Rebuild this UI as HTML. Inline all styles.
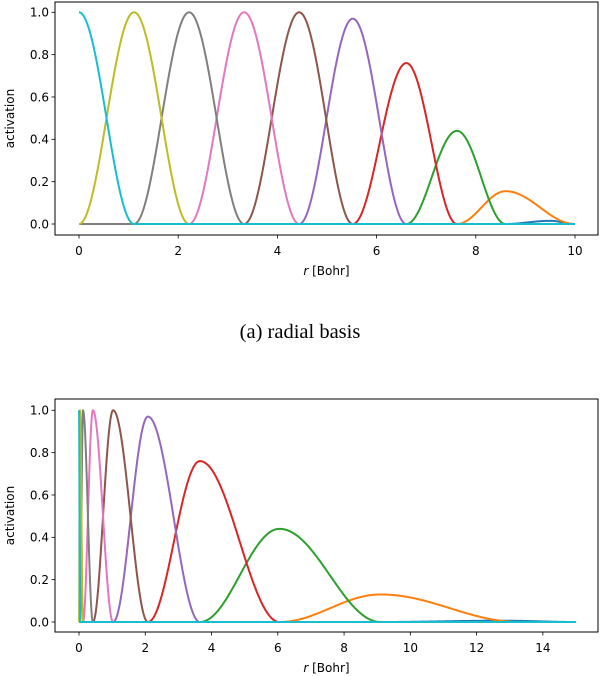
<!DOCTYPE html>
<html><head><meta charset="utf-8"><style>
html,body{margin:0;padding:0;background:#fff;}
svg{display:block;font-family:"DejaVu Sans","Liberation Sans",sans-serif;}
</style></head><body>
<svg id="fig" width="602" height="676" viewBox="0 0 602 676">
<text x="300" y="338" text-anchor="middle" font-family="Liberation Serif, serif" font-size="20.5" fill="#000">(a) radial basis</text>
</svg>
<script>
// Chart A (radial basis, linear spacing)
const topCenters = [9.5, 8.6, 7.62, 6.6, 5.52, 4.44, 3.33, 2.22, 1.11, 0];
const topAmps = [0.015, 0.155, 0.44, 0.76, 0.97, 1.0, 1.0, 1.0, 1.0, 1.0];
const topXTicks = [0, 2, 4, 6, 8, 10];
// Chart B (transformed spacing)
const botCenters = [12.8, 9.1, 6.05, 3.65, 2.08, 1.03, 0.42, 0.12, 0.03, 0];
const botAmps = [0.006, 0.13, 0.44, 0.76, 0.97, 1.0, 1.0, 1.0, 1.0, 1.0];
const botXTicks = [0, 2, 4, 6, 8, 10, 12, 14];
const yTicks = [0.0, 0.2, 0.4, 0.6, 0.8, 1.0];
const colors = ['#1f77b4','#ff7f0e','#2ca02c','#d62728','#9467bd','#8c564b','#e377c2','#7f7f7f','#bcbd22','#17becf'];

const NS = 'http://www.w3.org/2000/svg';
const svg = document.getElementById('fig');
function mk(tag, attrs, parent){const e=document.createElementNS(NS,tag);for(const k in attrs)e.setAttribute(k,attrs[k]);(parent||svg).appendChild(e);return e;}

function drawChart(prefix, box, xmax, centers, amps, xticks, rEnd){
  const g = mk('g', {});
  
  
  const xs = v => box.x0 + (v / xmax) * (box.x1 - box.x0);
  const ys = v => box.y0 + (1 - v) * (box.y1 - box.y0);
  centers.forEach((c, i) => {
    const prev = centers[i+1] !== undefined ? centers[i+1] : null;
    const next = Math.min(i > 0 ? centers[i-1] + (i === 1 ? 0.5 : 0) : rEnd, xmax);
    const lo = prev === null ? c : prev;
    let d = '';
    const N = 240;
    if (lo > 0) d += 'M' + xs(0).toFixed(2) + ',' + ys(0).toFixed(2) + ' L' + xs(lo).toFixed(2) + ',' + ys(0).toFixed(2);
    for (let k = 0; k <= N; k++) {
      const x = lo + (next - lo) * k / N;
      let v;
      if (x <= c) { v = (c - lo) > 0 ? (1 - Math.cos(Math.PI * (x - lo) / (c - lo))) / 2 : 1; }
      else { v = (1 + Math.cos(Math.PI * (x - c) / (next - c))) / 2; }
      d += (d === '' ? 'M' : ' L') + xs(x).toFixed(2) + ',' + ys(v * amps[i]).toFixed(2);
    }
    if (next < xmax) d += ' L' + xs(xmax).toFixed(2) + ',' + ys(0).toFixed(2);
    const p = mk('path', {d: d, fill: 'none', stroke: colors[i], 'stroke-width': 2, 'stroke-linejoin': 'round'}, g);
    
    
  });
  const fr = mk('rect', {x: box.L, y: box.T, width: box.R - box.L, height: box.B - box.T, fill: 'none', stroke: '#000', 'stroke-width': 1}, g);
  
  
  yTicks.forEach(t => {
    mk('line', {x1: box.L - 3.5, x2: box.L, y1: ys(t), y2: ys(t), stroke: '#000', 'stroke-width': 0.8}, g);
    const tx = mk('text', {x: box.L - 6, y: ys(t) + 4.3, 'text-anchor': 'end', 'font-size': 12}, g);
    tx.textContent = t.toFixed(1);
    
    
  });
  xticks.forEach(t => {
    mk('line', {x1: xs(t), x2: xs(t), y1: box.B, y2: box.B + 3.5, stroke: '#000', 'stroke-width': 0.8}, g);
    const tx = mk('text', {x: xs(t), y: box.B + 20, 'text-anchor': 'middle', 'font-size': 12}, g);
    tx.textContent = String(t);
    
    
  });
  const xl = mk('text', {x: (box.L + box.R) / 2, y: box.B + 40, 'text-anchor': 'middle', 'font-size': 12}, g);
  xl.innerHTML = '<tspan font-style="italic">r</tspan> [Bohr]';
  
  
  const cy = (box.T + box.B) / 2;
  const yl = mk('text', {x: 14, y: cy, 'text-anchor': 'middle', 'font-size': 12, transform: 'rotate(-90 14 ' + cy + ')'}, g);
  yl.textContent = 'activation';
  
  
}
drawChart('top', {L: 55, R: 598, T: 2, B: 235, x0: 79, x1: 575, y0: 12.3, y1: 224}, 10, topCenters, topAmps, topXTicks, 10);
drawChart('bottom', {L: 55, R: 598, T: 399, B: 632, x0: 79, x1: 576, y0: 410.3, y1: 622}, 15, botCenters, botAmps, botXTicks, 15);
</script>
</body></html>
